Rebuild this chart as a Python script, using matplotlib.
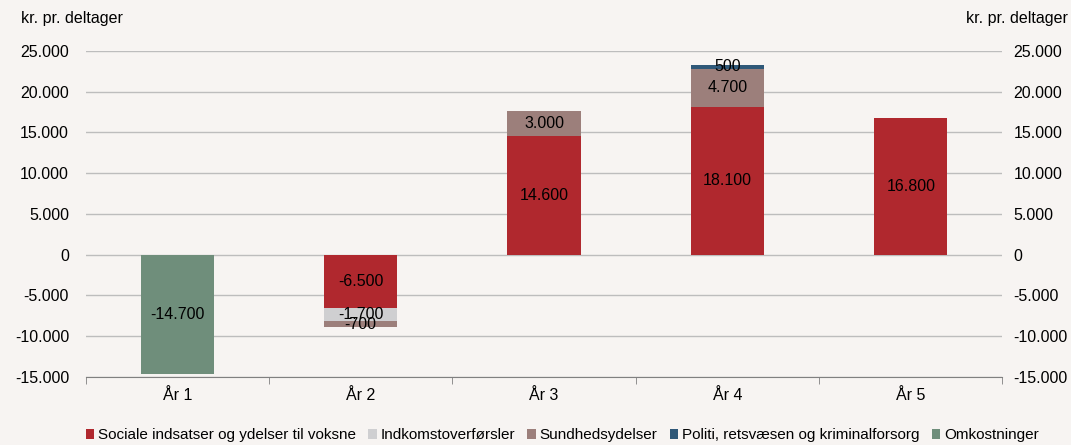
import numpy as np
import matplotlib
matplotlib.use("Agg")
import matplotlib.pyplot as plt
from matplotlib.ticker import FuncFormatter

years = ["År 1", "År 2", "År 3", "År 4", "År 5"]
series = ["Sociale indsatser og ydelser til voksne", "Indkomstoverførsler",
          "Sundhedsydelser", "Politi, retsvæsen og kriminalforsorg", "Omkostninger"]
sociale = [0, -6500, 14600, 18100, 16800]
indkomst = [0, -1700, 0, 0, 0]
sundhed = [0, -700, 3000, 4700, 0]
politi = [0, 0, 0, 500, 0]
omkost = [-14700, 0, 0, 0, 0]
colors = ["#B0282E", "#CFCFD1", "#9C7F7B", "#2F5878", "#6F8E7B"]

bg = "#F7F4F2"
fs = 11.5
plt.rcParams["font.family"] = ["Liberation Sans", "DejaVu Sans"]
fig = plt.figure(figsize=(10.71, 4.45), dpi=100, facecolor=bg)
ax = fig.add_axes([0.080, 0.153, 0.856, 0.733], facecolor=bg)

x = np.arange(len(years))
pos = np.zeros(len(years)); neg = np.zeros(len(years))
for name, vals, c in zip(series, [sociale, indkomst, sundhed, politi, omkost], colors):
    v = np.array(vals, float)
    base = np.where(v >= 0, pos, neg)
    ax.bar(x, v, 0.4, bottom=base, color=c, label=name, zorder=3)
    for i in range(len(v)):
        if v[i] != 0:
            ax.text(x[i], base[i] + v[i] / 2, f"{v[i]:,.0f}".replace(",", "."),
                    ha="center", va="center", fontsize=fs, zorder=4)
    pos = np.where(v >= 0, pos + v, pos)
    neg = np.where(v < 0, neg + v, neg)

ax.set_ylim(-15000, 25000)
ax.set_xlim(-0.5, 4.5)
ax.set_yticks(np.arange(-15000, 25001, 5000))
fmt = FuncFormatter(lambda v, p: f"{v:,.0f}".replace(",", "."))
ax.yaxis.set_major_formatter(fmt)
ax.grid(axis="y", color="#BDBDBD", lw=1, zorder=0)
ax.set_xticks(x)
ax.set_xticklabels(years)
ax.set_xticks(np.arange(-0.5, 4.6, 1), minor=True)
ax.tick_params(axis="x", which="major", length=0, pad=8, labelsize=fs)
ax.tick_params(axis="x", which="minor", length=5, color="#808080")
ax.tick_params(axis="y", length=0, labelsize=fs, pad=12)
for s in ["top", "right", "left"]:
    ax.spines[s].set_visible(False)
ax.spines["bottom"].set_color("#808080")

ax2 = ax.twinx()
ax2.set_ylim(ax.get_ylim())
ax2.set_yticks(np.arange(-15000, 25001, 5000))
ax2.yaxis.set_major_formatter(fmt)
ax2.tick_params(axis="y", length=0, labelsize=fs, pad=8)
for s in ax2.spines.values():
    s.set_visible(False)

fig.text(0.020, 0.958, "kr. pr. deltager", fontsize=fs, va="center")
fig.text(0.997, 0.958, "kr. pr. deltager", fontsize=fs, va="center", ha="right")

fig.legend(loc="lower center", ncol=5, frameon=False, fontsize=11,
           bbox_to_anchor=(0.525, -0.025), handlelength=0.55, handleheight=0.6,
           handletextpad=0.25, columnspacing=0.8)
fig.savefig("out.png", dpi=100, facecolor=bg)
